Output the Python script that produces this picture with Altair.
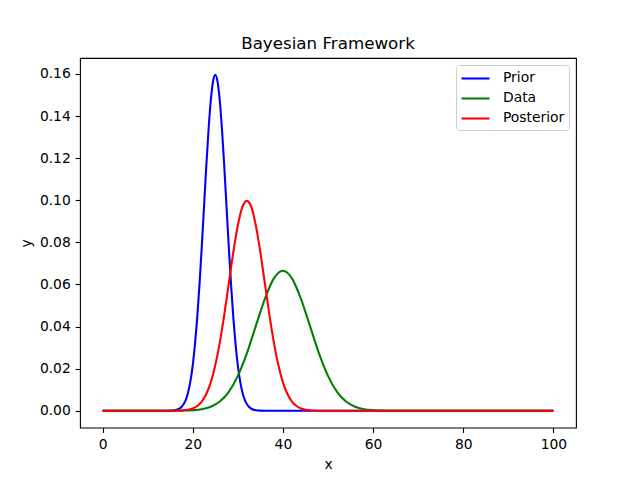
import altair as alt
import pandas as pd

# Prior (blue)
prior_x = [0, 14, 15, 16, 17, 17.5, 18, 18.5, 19, 19.5, 20, 20.5, 21, 21.5, 22, 22.5, 23, 23.5, 24, 24.5, 25,
           25.5, 26, 26.5, 27, 27.5, 28, 28.5, 29, 29.5, 30, 30.5, 31, 31.5, 32, 32.5, 33, 34, 35, 36, 100]
prior_y = [0, 0.00001, 0.00005, 0.00024, 0.00095, 0.00177, 0.00317, 0.00543, 0.00896, 0.0142, 0.0216, 0.0316,
           0.0444, 0.0599, 0.0777, 0.0968, 0.1159, 0.1333, 0.1473, 0.1564, 0.1596,
           0.1564, 0.1473, 0.1333, 0.1159, 0.0968, 0.0777, 0.0599, 0.0444, 0.0316, 0.0216, 0.0142, 0.00896,
           0.00543, 0.00317, 0.00177, 0.00095, 0.00024, 0.00005, 0.00001, 0]

# Data (green)
data_x = [0, 14, 16, 18, 20, 22, 24, 26, 28, 30, 32, 34, 36, 38, 40,
          42, 44, 46, 48, 50, 52, 54, 56, 58, 60, 62, 64, 66, 100]
data_y = [0, 0.0, 0.00002, 0.00008, 0.00026, 0.00074, 0.00190, 0.00437, 0.0090, 0.0166, 0.0273, 0.0403,
          0.0532, 0.0629, 0.0665,
          0.0629, 0.0532, 0.0403, 0.0273, 0.0166, 0.0090, 0.00437, 0.00190, 0.00074, 0.00026, 0.00008,
          0.00002, 0.0, 0]

# Posterior (red)
post_x = [0, 15, 16, 17, 18, 19, 20, 21, 22, 23, 24, 25, 26, 27, 28, 29, 30, 31, 32,
          33, 34, 35, 36, 37, 38, 39, 40, 41, 42, 43, 44, 45, 46, 47, 48, 49, 100]
post_y = [0, 0.0, 0.00003, 0.00009, 0.00022, 0.00051, 0.00111, 0.00227, 0.00438, 0.00794, 0.0135, 0.0216,
          0.0324, 0.0457, 0.0605, 0.0753, 0.0880, 0.0967, 0.0997,
          0.0967, 0.0880, 0.0753, 0.0605, 0.0457, 0.0324, 0.0216, 0.0135, 0.00794, 0.00438, 0.00227,
          0.00111, 0.00051, 0.00022, 0.00009, 0.00003, 0.0, 0]

series_names = ["Prior", "Data", "Posterior"]
series_colors = ["#0000ff", "#008000", "#ff0000"]

x_ticks = [0, 20, 40, 60, 80, 100]
y_ticks = [0.00, 0.02, 0.04, 0.06, 0.08, 0.10, 0.12, 0.14, 0.16]

rows = []
for name, xs, ys in [("Prior", prior_x, prior_y), ("Data", data_x, data_y), ("Posterior", post_x, post_y)]:
    for i, (a, b) in enumerate(zip(xs, ys)):
        rows.append({"x": a, "y": b, "series": name, "order": i})
df = pd.DataFrame(rows)

font = "DejaVu Sans"

chart = alt.Chart(df).mark_line(strokeWidth=2.08, interpolate="monotone").encode(
    x=alt.X("x:Q", scale=alt.Scale(domain=[-5, 105], nice=False, zero=False),
            axis=alt.Axis(values=x_ticks, title="x", grid=False, format="d")),
    y=alt.Y("y:Q", scale=alt.Scale(domain=[-0.008, 0.1676], nice=False, zero=False),
            axis=alt.Axis(values=y_ticks, title="y", grid=False, format=".2f")),
    color=alt.Color("series:N",
                    scale=alt.Scale(domain=series_names, range=series_colors),
                    sort=series_names,
                    legend=alt.Legend(title=None, orient="top-right", offset=7,
                                      symbolType="M-1,0H2.5", symbolStrokeWidth=2.08,
                                      symbolSize=256, labelFontSize=13.9, labelFont=font,
                                      labelColor="black", padding=4, rowPadding=3,
                                      labelOffset=24,
                                      fillColor="white", strokeColor="#cccccc",
                                      cornerRadius=3)),
    detail="series:N",
    order="order:Q",
).properties(
    width=496,
    height=369.6,
    title=alt.TitleParams("Bayesian Framework", fontSize=16.7, font=font, fontWeight="normal",
                          color="black", anchor="middle", offset=5),
    autosize=alt.AutoSizeParams(type="none"),
    padding={"left": 72, "top": 50, "right": 56, "bottom": 44},
).configure_view(
    stroke="black", strokeWidth=1.1
).configure_axis(
    domain=False, tickColor="black", tickSize=4.86, tickWidth=1.1,
    labelFont=font, labelFontSize=13.9, labelColor="black", labelPadding=4.86,
    titleFont=font, titleFontSize=13.9, titleColor="black", titleFontWeight="normal",
    titlePadding=6,
)

chart.save("out.html", embed_options={"renderer": "svg", "actions": False})
